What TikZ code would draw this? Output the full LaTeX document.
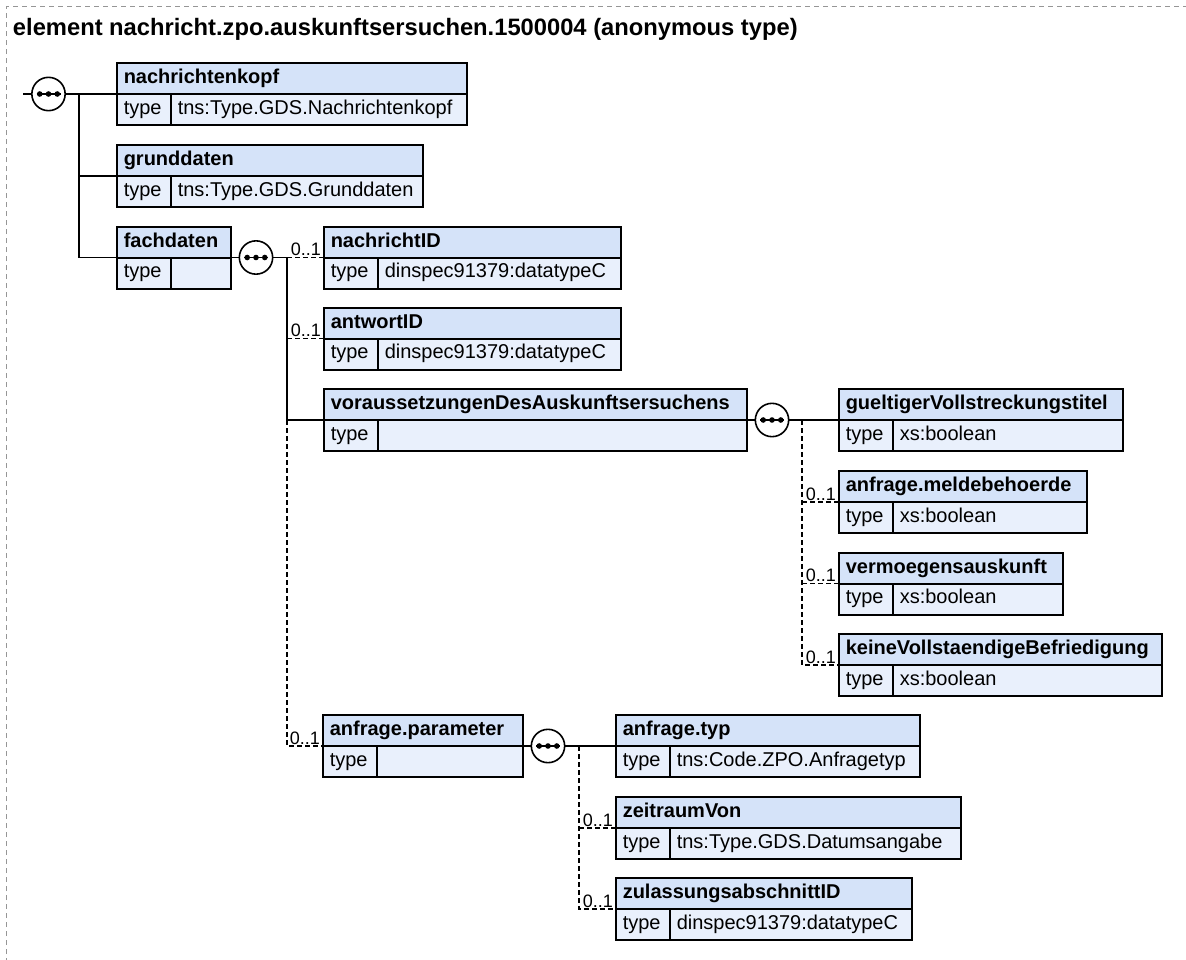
\documentclass[tikz,border=0pt]{standalone}
\usepackage{fontspec}
\setmainfont{Liberation Sans}
\definecolor{hdrblue}{RGB}{213,227,249}
\definecolor{typblue}{RGB}{233,240,252}
\definecolor{framegray}{RGB}{150,150,150}
\tikzset{
  hdrfill/.style={fill=hdrblue},
  typfill/.style={fill=typblue},
  boxline/.style={draw=black,line width=1.5pt},
  hdrtext/.style={anchor=base west,inner sep=0pt,font=\fontsize{15pt}{18pt}\selectfont\bfseries},
  typtext/.style={anchor=base west,inner sep=0pt,font=\fontsize{15pt}{18pt}\selectfont},
  multtext/.style={anchor=base east,inner sep=0pt,font=\fontsize{13.5pt}{16pt}\selectfont},
  titletext/.style={anchor=base west,inner sep=0pt,font=\fontsize{17.8pt}{21pt}\selectfont\bfseries},
  conn/.style={draw=black,line width=1.2pt},
  optconn/.style={draw=black,line width=1.2pt,dash pattern=on 3.75pt off 2.25pt},
  seqc/.style={circle,draw=black,line width=1.2pt,fill=white,minimum size=25pt,inner sep=0pt},
  frameline/.style={draw=framegray,line width=0.8pt,dash pattern=on 3.75pt off 3pt}
}
% element box: #1 name, #2 x1, #3 x2, #4 top, #5 element name, #6 type
\newcommand{\elbox}[6]{%
  \path[hdrfill] (#2,#4) rectangle (#3,#4+31);
  \path[typfill] (#2,#4+31) rectangle (#3,#4+62);
  \draw[boxline] (#2,#4) rectangle (#3,#4+62);
  \draw[boxline] (#2,#4+31) -- (#3,#4+31);
  \draw[boxline] (#2+54,#4+31) -- (#2+54,#4+62);
  \node[hdrtext] (#1-h) at (#2+6.5,#4+20.5) {#5};
  \node[typtext] (#1-k) at (#2+6.5,#4+51) {type};
  \node[typtext] (#1-v) at (#2+60.5,#4+51) {#6};
  \coordinate (#1) at (#2,#4+31);
}
% sequence compositor
\newcommand{\seqsym}[3]{%
  \node[seqc] (#1) at (#2,#3) {};
  \draw[line width=1.2pt] ([xshift=-9pt]#1.center) -- ([xshift=9pt]#1.center);
  \fill ([xshift=-6.6pt]#1.center) circle (2.1pt);
  \fill (#1.center) circle (2.1pt);
  \fill ([xshift=6.6pt]#1.center) circle (2.1pt);
}
\newcommand{\multlabel}[2]{%
  \node[multtext] (#1-m) at ([xshift=-2.2pt,yshift=1.5pt]#2) {0..1};
}
\begin{document}
\begin{tikzpicture}[x=0.75pt,y=-0.75pt]
\useasboundingbox (0,0) rectangle (1186,960);
\begin{scope}
\clip (0,0) rectangle (1186,960);
\draw[frameline] (6.5,990) -- (6.5,6.5) -- (1200,6.5);
\end{scope}
\node[titletext] (title) at (12.7,35.7) {element nachricht.zpo.auskunftsersuchen.1500004 (anonymous type)};

% boxes
\elbox{nk}{117}{467}{63}{nachrichtenkopf}{tns:Type.GDS.Nachrichtenkopf}
\elbox{gd}{117}{423}{145}{grunddaten}{tns:Type.GDS.Grunddaten}
\elbox{fd}{117}{231}{226.5}{fachdaten}{}
\elbox{nid}{324}{621}{226.5}{nachrichtID}{dinspec91379:datatypeC}
\elbox{aid}{324}{621}{307.5}{antwortID}{dinspec91379:datatypeC}
\elbox{vor}{324}{747}{389}{voraussetzungenDesAuskunftsersuchens}{}
\elbox{gvt}{839}{1123}{389}{gueltigerVollstreckungstitel}{xs:boolean}
\elbox{amb}{839}{1087}{471}{anfrage.meldebehoerde}{xs:boolean}
\elbox{vma}{839}{1063}{552.5}{vermoegensauskunft}{xs:boolean}
\elbox{kvb}{839}{1162}{634}{keineVollstaendigeBefriedigung}{xs:boolean}
\elbox{apa}{323}{523}{715}{anfrage.parameter}{}
\elbox{aty}{616}{920}{715}{anfrage.typ}{tns:Code.ZPO.Anfragetyp}
\elbox{zrv}{616}{961}{797}{zeitraumVon}{tns:Type.GDS.Datumsangabe}
\elbox{zul}{616}{912}{878}{zulassungsabschnittID}{dinspec91379:datatypeC}

% sequence symbols
\seqsym{s1}{48.5}{94}
\seqsym{s2}{256}{257.5}
\seqsym{s3}{772}{420}
\seqsym{s4}{548}{746}

% root connectors
\coordinate (r0) at (23,94);
\coordinate (j1) at (79,94);
\coordinate (j1e) at (79,257.5);
\draw[conn] (r0) -- (s1.west);
\draw[conn] (s1.east) -- (nk);
\draw[conn] (j1) -- (j1e);
\draw[conn] (j1 |- gd) -- (gd);
\draw[conn] (j1e) -- (fd);
\draw[conn] (fd) ++(114,0) -- (s2.west);

% fachdaten connectors
\coordinate (j2) at (287,257.5);
\coordinate (j2b) at (287,420);
\draw[conn] (s2.east) -- (j2);
\draw[optconn] (j2) -- (nid);
\draw[conn] (j2) -- (j2b);
\draw[optconn] (j2 |- aid) -- (aid);
\draw[conn] (j2b) -- (vor);
\draw[optconn] (j2b) -- (j2 |- apa) -- (apa);
\multlabel{nid}{nid}
\multlabel{aid}{aid}
\multlabel{apa}{apa}

% voraussetzungen connectors
\coordinate (j3) at (802,420);
\draw[conn] (vor) ++(423,0) -- (s3.west);
\draw[conn] (s3.east) -- (gvt);
\draw[optconn] (j3) -- (j3 |- kvb) -- (kvb);
\draw[optconn] (j3 |- amb) -- (amb);
\draw[optconn] (j3 |- vma) -- (vma);
\multlabel{amb}{amb}
\multlabel{vma}{vma}
\multlabel{kvb}{kvb}

% anfrage.parameter connectors
\coordinate (j4) at (579,746);
\draw[conn] (apa) ++(200,0) -- (s4.west);
\draw[conn] (s4.east) -- (aty);
\draw[optconn] (j4) -- (j4 |- zul) -- (zul);
\draw[optconn] (j4 |- zrv) -- (zrv);
\multlabel{zrv}{zrv}
\multlabel{zul}{zul}
\end{tikzpicture}
\end{document}
